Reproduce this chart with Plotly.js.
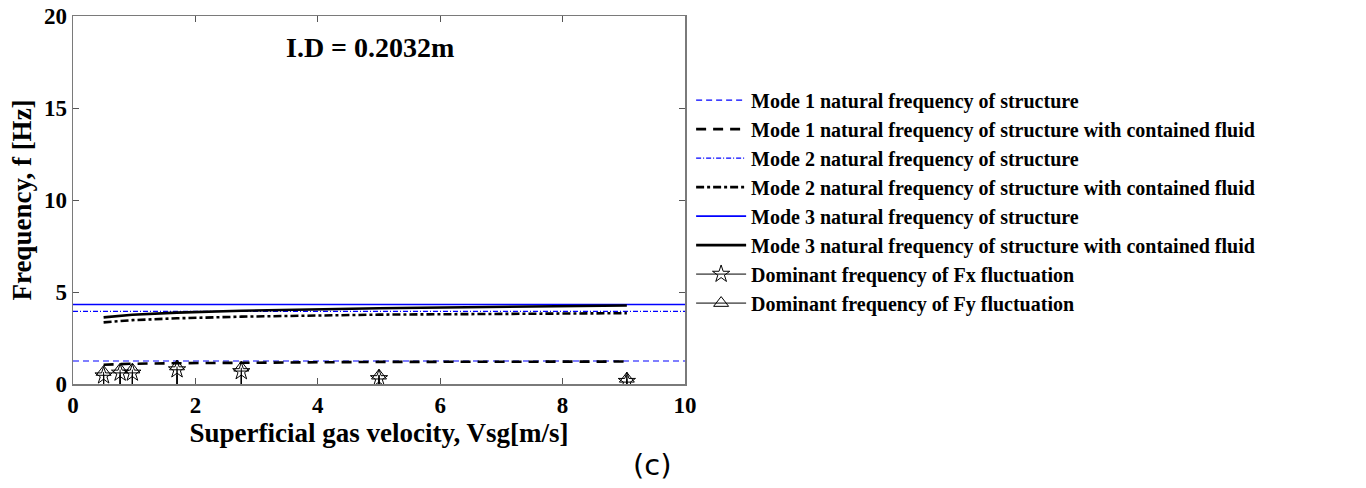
<!DOCTYPE html>
<html><head><meta charset="utf-8">
<script src="https://cdn.plot.ly/plotly-3.0.1.min.js"></script>
<style>html,body{margin:0;padding:0;background:#fff}#chart{width:1366px;height:488px}</style>
</head><body><div id="chart"></div>
<script>
// Data
const vsg = [0.5, 0.77, 0.97, 1.7, 2.75, 5.0, 9.05];
const structX = [0, 10];
const mode1Struct = [1.25, 1.25];
const mode2Struct = [3.95, 3.95];
const mode3Struct = [4.32, 4.32];
const mode1Fluid = [1.05, 1.08, 1.1, 1.13, 1.16, 1.2, 1.22];
const mode2Fluid = [3.35, 3.42, 3.47, 3.57, 3.66, 3.77, 3.85];
const mode3Fluid = [3.62, 3.7, 3.76, 3.88, 3.98, 4.12, 4.27];
const fxDom = [0.45, 0.6, 0.6, 0.78, 0.68, 0.3, 0.15];
const fyDom = [0.65, 0.78, 0.78, 0.95, 0.88, 0.45, 0.28];
const legendNames = [
  'Mode 1 natural frequency of structure',
  'Mode 1 natural frequency of structure with contained fluid',
  'Mode 2 natural frequency of structure',
  'Mode 2 natural frequency of structure with contained fluid',
  'Mode 3 natural frequency of structure',
  'Mode 3 natural frequency of structure with contained fluid',
  'Dominant frequency of Fx fluctuation',
  'Dominant frequency of Fy fluctuation'
];

// stem plot: [top, base, gap] per point; base symbol hides under the stem
function stems(xs, ys, sym) {
  const x = [], y = [], s = [];
  xs.forEach((v, i) => { x.push(v, v, null); y.push(ys[i], 0, null); s.push(sym, 'line-ns-open', sym); });
  return {x, y, s};
}
const sx = stems(vsg, fxDom, 'star-open'), sy = stems(vsg, fyDom, 'triangle-up-open');
const blue = '#0000ff';
const traces = [
  {x: structX, y: mode1Struct, mode: 'lines', name: legendNames[0], line: {color: blue, width: 1.2, dash: '6px,4px'}},
  {x: vsg, y: mode1Fluid, mode: 'lines', name: legendNames[1], line: {color: '#000', width: 2.6, dash: '10px,7px'}},
  {x: structX, y: mode2Struct, mode: 'lines', name: legendNames[2], line: {color: blue, width: 1.2, dash: '5px,2px,1px,2px'}},
  {x: vsg, y: mode2Fluid, mode: 'lines', name: legendNames[3], line: {color: '#000', width: 2.6, dash: '8px,3px,3px,3px'}},
  {x: structX, y: mode3Struct, mode: 'lines', name: legendNames[4], line: {color: blue, width: 1.6}},
  {x: vsg, y: mode3Fluid, mode: 'lines', name: legendNames[5], line: {color: '#000', width: 2.6}},
  {x: sx.x, y: sx.y, mode: 'lines+markers', name: legendNames[6], line: {color: '#000', width: 1}, marker: {symbol: sx.s, size: 13, color: '#000', line: {width: 1, color: '#000'}}, connectgaps: false},
  {x: sy.x, y: sy.y, mode: 'lines+markers', name: legendNames[7], line: {color: '#000', width: 1}, marker: {symbol: sy.s, size: 13, color: '#000', line: {width: 1, color: '#000'}}, connectgaps: false}
];
const serif = 'Liberation Serif, Times New Roman, serif';
const tickFont = {family: serif, size: 23, color: '#000', weight: 'bold'};
const titleFont = {family: serif, size: 27, color: '#000', weight: 'bold'};
const layout = {
  width: 1366, height: 488,
  margin: {l: 73, r: 681, t: 16, b: 104},
  paper_bgcolor: '#fff', plot_bgcolor: '#fff',
  showlegend: true,
  legend: {x: 1.01, y: 0.8245, xanchor: 'left', yanchor: 'top', bgcolor: 'rgba(0,0,0,0)',
    font: {family: serif, size: 20, color: '#000', weight: 'bold'},
    tracegroupgap: 0, itemwidth: 50},
  xaxis: {range: [0, 10], tickvals: [0, 2, 4, 6, 8, 10], showgrid: false, zeroline: false,
    showline: true, linecolor: '#7a7a7a', linewidth: 1.5, mirror: 'ticks', ticks: 'inside', ticklen: 6, tickcolor: '#555',
    tickfont: tickFont,
    title: {text: 'Superficial gas velocity, Vsg[m/s]', font: titleFont, standoff: 0}},
  yaxis: {range: [0, 20], tickvals: [0, 5, 10, 15, 20], showgrid: false, zeroline: false,
    showline: true, linecolor: '#7a7a7a', linewidth: 1.5, mirror: 'ticks', ticks: 'inside', ticklen: 6, tickcolor: '#555',
    tickfont: tickFont,
    title: {text: 'Frequency, f [Hz]', font: titleFont, standoff: 4}},
  annotations: [
    {x: 4.85, y: 18.3, xref: 'x', yref: 'y', text: 'I.D = 0.2032m', showarrow: false,
      font: {family: serif, size: 28, color: '#000', weight: 'bold'}},
    {x: (652 - 73) / 612, y: (384 - 465) / 368, xref: 'paper', yref: 'paper', xanchor: 'center', yanchor: 'middle',
      text: '(c)', showarrow: false,
      font: {family: 'DejaVu Sans, sans-serif', size: 29, color: '#000'}}
  ]
};
Plotly.newPlot('chart', traces, layout, {displayModeBar: false, staticPlot: true});
</script></body></html>
